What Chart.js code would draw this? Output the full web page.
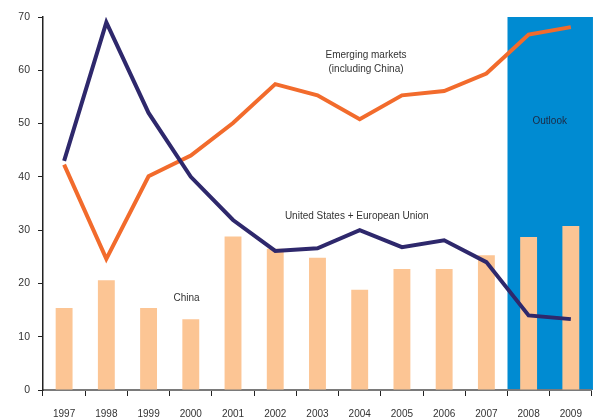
<!DOCTYPE html>
<html lang="en">
<head>
<meta charset="UTF-8" />
<title>Chart</title>
<style>
  body { margin: 0; background: #fff; }
</style>
</head>
<body>
<canvas id="myChart" width="594" height="420"></canvas>
<script src="https://cdn.jsdelivr.net/npm/chart.js"></script>
<script>
// data
const years = ['1997', '1998', '1999', '2000', '2001', '2002', '2003', '2004', '2005', '2006', '2007', '2008', '2009'];
const china = [15.4, 20.6, 15.4, 13.3, 28.8, 26.5, 24.8, 18.8, 22.7, 22.7, 25.3, 28.7, 30.8];
const emerging = [42.3, 24.6, 40.1, 44.0, 50.1, 57.4, 55.3, 50.8, 55.3, 56.1, 59.4, 66.7, 68.1];
const usEu = [43.0, 69.0, 52.0, 40.0, 31.9, 26.1, 26.6, 30.0, 26.8, 28.1, 24.0, 14.0, 13.3];
const yTicks = [0, 10, 20, 30, 40, 50, 60, 70];
const outlookFrom = '2008';

// text notes placed in data units (x = category index, y = value)
const notes = [
    { text: 'Emerging markets', x: 7.15, y: 62.8, color: '#333' },
    { text: '(including China)', x: 7.15, y: 60.2, color: '#333' },
    { text: 'United States + European Union', x: 6.93, y: 32.6, color: '#333' },
    { text: 'China', x: 2.9, y: 17.2, color: '#333' },
    { text: 'Outlook', x: 11.5, y: 50.5, color: '#1c2a44' }
];

const outlookBox = {
    id: 'outlookBox',
    beforeDraw(chart) {
        const ctx = chart.ctx;
        const xs = chart.scales.x, ys = chart.scales.y;
        const i = years.indexOf(outlookFrom);
        const half = (xs.getPixelForValue(1) - xs.getPixelForValue(0)) / 2;
        const x0 = xs.getPixelForValue(i) - half;
        const y0 = ys.getPixelForValue(70);
        ctx.save();
        ctx.fillStyle = '#008bd2';
        ctx.fillRect(x0, y0, chart.chartArea.right + 1 - x0, ys.getPixelForValue(0) - y0);
        ctx.restore();
    }
};

const noteText = {
    id: 'noteText',
    afterDatasetsDraw(chart) {
        const ctx = chart.ctx;
        const xs = chart.scales.x, ys = chart.scales.y;
        ctx.save();
        ctx.font = '10px "Liberation Sans", Arial, sans-serif';
        ctx.textAlign = 'center';
        ctx.textBaseline = 'middle';
        notes.forEach(n => {
            ctx.fillStyle = n.color;
            ctx.fillText(n.text, xs.getPixelForValue(n.x), ys.getPixelForValue(n.y));
        });
        ctx.restore();
    }
};

const config = {
    type: 'bar',
    data: {
        labels: years,
        datasets: [
            {
                type: 'line',
                label: 'United States + European Union',
                data: usEu,
                borderColor: '#2e286c',
                borderWidth: 4,
                pointRadius: 0,
                tension: 0,
                order: 0
            },
            {
                type: 'line',
                label: 'Emerging markets (including China)',
                data: emerging,
                borderColor: '#f26b2c',
                borderWidth: 4,
                pointRadius: 0,
                tension: 0,
                order: 1
            },
            {
                type: 'bar',
                label: 'China',
                data: china,
                backgroundColor: '#fcc594',
                categoryPercentage: 1,
                barPercentage: 0.4,
                order: 2
            }
        ]
    },
    options: {
        responsive: false,
        animation: false,
        layout: { padding: { top: 17, right: 1, left: 0, bottom: 0 } },
        plugins: {
            legend: { display: false },
            tooltip: { enabled: false }
        },
        scales: {
            x: {
                offset: true,
                grid: { drawOnChartArea: false, offset: true, color: '#222', tickLength: 6 },
                border: { color: '#7a7a7a', width: 2 },
                ticks: {
                    color: '#333',
                    font: { family: '"Liberation Sans", Arial, sans-serif', size: 10 },
                    padding: 12,
                    maxRotation: 0,
                    autoSkip: false
                },
                afterFit(scale) { scale.height = 30; }
            },
            y: {
                min: 0,
                max: 70,
                afterBuildTicks(scale) { scale.ticks = yTicks.map(v => ({ value: v })); },
                grid: { drawOnChartArea: false, color: '#222', tickLength: 5 },
                border: { color: '#222', width: 1.5 },
                ticks: {
                    color: '#333',
                    font: { family: '"Liberation Sans", Arial, sans-serif', size: 10.5 },
                    padding: 8
                },
                afterFit(scale) { scale.width = 43; }
            }
        }
    },
    plugins: [outlookBox, noteText]
};

const myChart = new Chart(document.getElementById('myChart'), config);
</script>
</body>
</html>
